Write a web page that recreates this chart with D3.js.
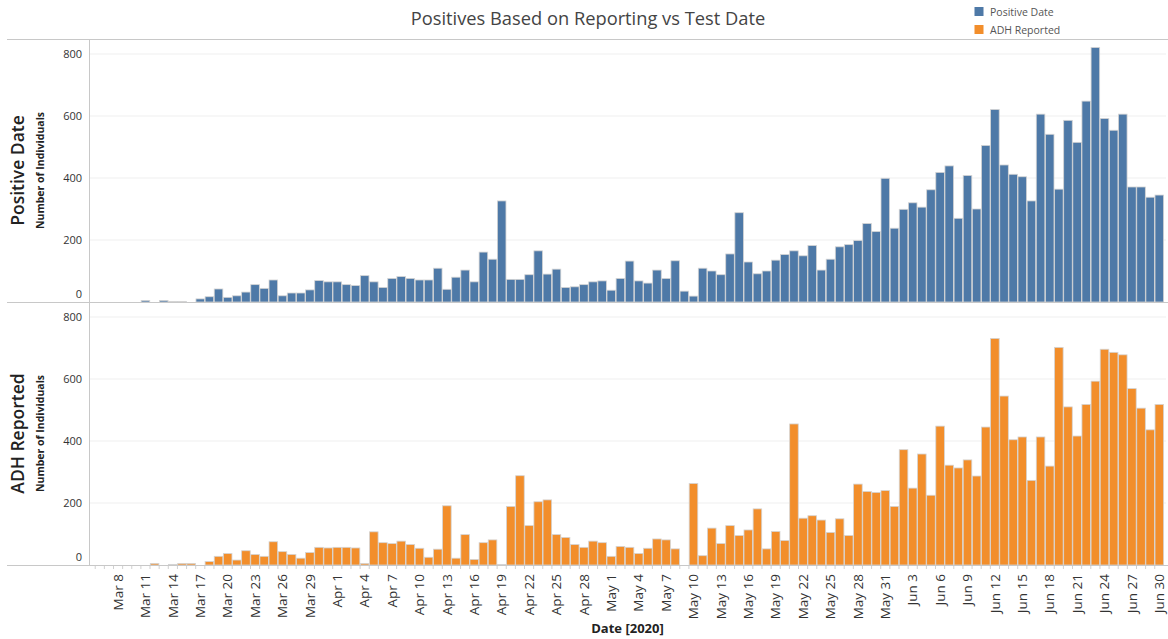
<!DOCTYPE html>
<html><head><meta charset="utf-8">
<script src="https://cdn.jsdelivr.net/npm/d3@7"></script>
<style>
body{margin:0;background:#fff;}
text{font-family:"Open Sans","Noto Sans",sans-serif;}
</style></head>
<body>
<svg id="chart" width="1168" height="639"></svg>
<script>
// ---- data ----
const startDate = "2020-03-06";
const endDate = "2020-06-30";
const positiveDate = [
0,0,0,0,0,5,0,5,2,2,0,10,17,42,15,20,32,56,44,71,20,29,29,39,69,65,
65,56,53,85,65,47,76,82,76,71,71,109,41,80,103,65,161,138,326,73,73,88,165,90,106,47,49,56,65,68,
38,76,132,68,61,103,76,133,35,19,109,100,88,155,288,129,91,100,135,153,165,149,182,103,138,178,185,198,253,227,399,
238,299,320,306,362,418,439,270,408,300,505,621,442,412,404,326,606,541,364,586,515,648,821,592,554,606,371,371,338,345
];
const adhReported = [
0,0,0,0,0,0,5,0,2,5,5,0,11,28,37,16,46,34,28,75,43,34,22,40,57,55,
57,57,55,5,107,72,69,77,66,54,25,51,191,22,98,18,72,81,2,189,288,127,204,210,98,89,66,57,77,72,
28,60,57,37,54,84,81,52,0,263,30,119,69,127,95,113,181,52,108,79,455,151,159,145,105,149,95,261,237,234,240,
189,372,248,358,225,448,322,313,339,287,445,731,545,404,413,273,413,319,702,510,416,518,593,696,686,678,569,506,436,518
];
const yTicks = [0,200,400,600,800];
const xTickLabels = ["Mar 8","Mar 11","Mar 14","Mar 17","Mar 20","Mar 23","Mar 26","Mar 29",
"Apr 1","Apr 4","Apr 7","Apr 10","Apr 13","Apr 16","Apr 19","Apr 22","Apr 25","Apr 28",
"May 1","May 4","May 7","May 10","May 13","May 16","May 19","May 22","May 25","May 28","May 31",
"Jun 3","Jun 6","Jun 9","Jun 12","Jun 15","Jun 18","Jun 21","Jun 24","Jun 27","Jun 30"];
const seriesNames = ["Positive Date","ADH Reported"];
const colors = ["#4e79a7","#f28e2b"];

// ---- build ----
const parse = d3.timeParse("%Y-%m-%d");
const days = d3.timeDay.range(parse(startDate), d3.timeDay.offset(parse(endDate),1));
const fmt = d3.timeFormat("%b %-d");
const cats = days.map(fmt);

const svg = d3.select("#chart");
const left = 89, right = 1166;
const x = d3.scaleBand().domain(cats).range([95.5, 1163.6]).paddingInner(0.06);

const panels = [
  {name: seriesNames[0], values: positiveDate, color: colors[0], top: 39, y: d3.scaleLinear().domain([0,800]).range([302,54])},
  {name: seriesNames[1], values: adhReported, color: colors[1], top: 302, y: d3.scaleLinear().domain([0,800]).range([565,317])}
];

// title
svg.append("text").attr("x", 588).attr("y", 25).attr("text-anchor","middle")
  .attr("font-size", 18.3).attr("fill","#444").text("Positives Based on Reporting vs Test Date");

// legend
seriesNames.forEach((n,i)=>{
  svg.append("rect").attr("x",974.5).attr("y",7+i*18).attr("width",9).attr("height",9).attr("fill",colors[i]);
  svg.append("text").attr("x",990).attr("y",15.5+i*18).attr("font-size",10.5).attr("fill","#555").text(n);
});

panels.forEach(p=>{
  const g = svg.append("g");
  const y = p.y;
  // gridlines
  g.selectAll("line.grid").data(yTicks.filter(t=>t>0)).join("line")
    .attr("x1", left).attr("x2", right).attr("y1", d=>y(d)).attr("y2", d=>y(d))
    .attr("stroke","#efefef").attr("stroke-width",1);
  // bars
  g.selectAll("rect.bar").data(p.values.map((v,i)=>({c:cats[i], v}))).join("rect")
    .filter(d=>d.v>0)
    .attr("x", d=>x(d.c)).attr("width", x.bandwidth())
    .attr("y", d=>y(d.v)).attr("height", d=>y(0)-y(d.v))
    .attr("fill", p.color).attr("stroke","#d4d4d4").attr("stroke-width",0.8);
  // y tick labels
  g.selectAll("text.yt").data(yTicks).join("text")
    .attr("x", 82).attr("y", d=> d===0 ? y(d)-8 : y(d))
    .attr("dy","0.35em").attr("text-anchor","end").attr("font-size",11).attr("fill","#333")
    .text(d=>d3.format("d")(d));
  // row labels
  const cy = (y.range()[0] + p.top)/2;
  svg.append("text").attr("transform",`translate(24,${cy}) rotate(-90)`)
    .attr("text-anchor","middle").attr("font-size",17.5).attr("font-weight",600).attr("fill","#222").text(p.name);
  svg.append("text").attr("transform",`translate(44,${cy}) rotate(-90)`)
    .attr("text-anchor","middle").attr("font-size",10.5).attr("font-weight","bold").attr("fill","#222")
    .text("Number of Individuals");
});

// frame lines
svg.append("line").attr("x1",7).attr("x2",1168).attr("y1",39.5).attr("y2",39.5).attr("stroke","#c8c8c8");
svg.append("line").attr("x1",7).attr("x2",1168).attr("y1",302.5).attr("y2",302.5).attr("stroke","#c8c8c8");
svg.append("line").attr("x1",7).attr("x2",1168).attr("y1",565.5).attr("y2",565.5).attr("stroke","#c8c8c8");
svg.append("line").attr("x1",89.5).attr("x2",89.5).attr("y1",39).attr("y2",566).attr("stroke","#c8c8c8");

// x axis ticks (each day) and labels
const step = x.step();
svg.append("g").selectAll("line").data(cats).join("line")
  .attr("x1", d=>x(d)-step*x.paddingInner()/2).attr("x2", d=>x(d)-step*x.paddingInner()/2)
  .attr("y1",566).attr("y2",569).attr("stroke","#d0d0d0");
svg.append("g").selectAll("text").data(xTickLabels).join("text")
  .attr("transform", d=>`translate(${x(d)+x.bandwidth()/2},574) rotate(-90)`)
  .attr("text-anchor","end").attr("dy","0.35em").attr("font-size",13.5).attr("fill","#333")
  .text(d=>d);
svg.append("text").attr("x",627.5).attr("y",633).attr("text-anchor","middle")
  .attr("font-size",13).attr("font-weight","bold").attr("fill","#222").text("Date [2020]");
</script>
</body></html>
